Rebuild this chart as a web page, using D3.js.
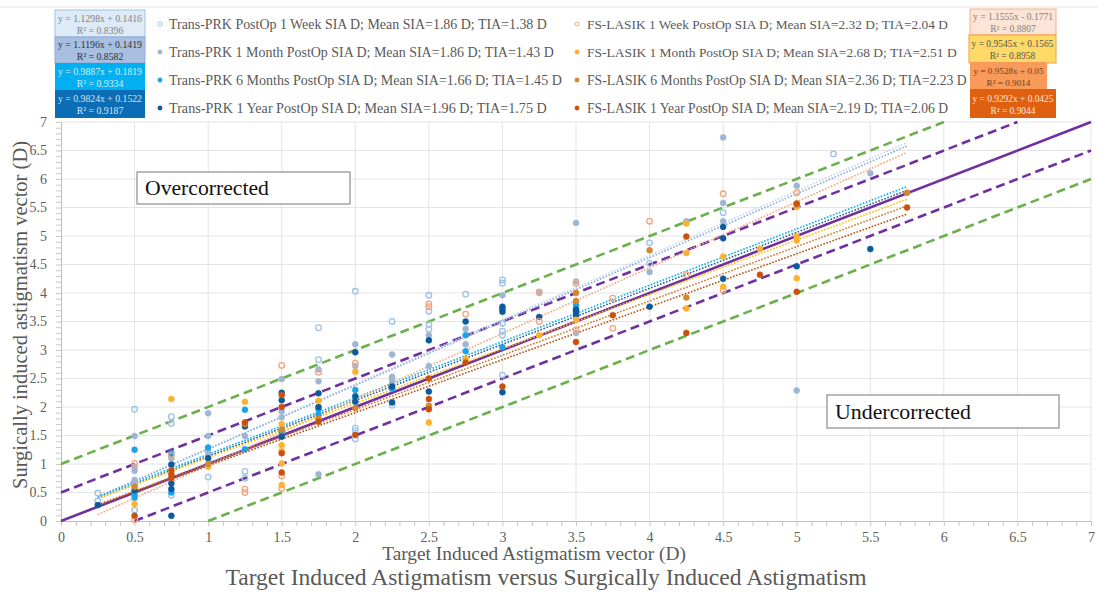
<!DOCTYPE html>
<html><head><meta charset="utf-8">
<script src="https://cdn.jsdelivr.net/npm/d3@7"></script>
<style>
html,body{margin:0;padding:0;background:#fff;}
svg{display:block;font-family:"Liberation Serif","DejaVu Serif",serif;}
</style></head>
<body><svg id="c" width="1098" height="592"></svg>
<script>
// ---------- DATA ----------
const seriesNames = [
  "Trans-PRK PostOp 1 Week SIA D; Mean SIA=1.86 D; TIA=1.38 D",
  "Trans-PRK 1 Month PostOp SIA D; Mean SIA=1.86 D; TIA=1.43 D",
  "Trans-PRK 6 Months PostOp SIA D; Mean SIA=1.66 D; TIA=1.45 D",
  "Trans-PRK 1 Year PostOp SIA D; Mean SIA=1.96 D; TIA=1.75 D",
  "FS-LASIK 1 Week PostOp SIA D; Mean SIA=2.32 D; TIA=2.04 D",
  "FS-LASIK 1 Month PostOp SIA D; Mean SIA=2.68 D; TIA=2.51 D",
  "FS-LASIK 6 Months PostOp SIA D; Mean SIA=2.36 D; TIA=2.23 D",
  "FS-LASIK 1 Year PostOp SIA D; Mean SIA=2.19 D; TIA=2.06 D"
];
const trendSlopes = [1.1298, 1.1196, 0.9887, 0.9824, 1.1555, 0.9545, 0.9528, 0.9292];
const trendIntercepts = [0.1416, 0.1419, 0.1819, 0.1522, -0.1771, 0.1565, 0.05, 0.0425];
const trendEquations = [
  "y = 1.1298x + 0.1416", "y = 1.1196x + 0.1419", "y = 0.9887x + 0.1819", "y = 0.9824x + 0.1522",
  "y = 1.1555x - 0.1771", "y = 0.9545x + 0.1565", "y = 0.9528x + 0.05", "y = 0.9292x + 0.0425"
];
const trendR2 = ["R² = 0.8396", "R² = 0.8582", "R² = 0.9334", "R² = 0.9187",
                 "R² = 0.8807", "R² = 0.8958", "R² = 0.9014", "R² = 0.9044"];
const trendRange = [0.25, 5.75];

const tp1w = [[0.25,0.49],[0.25,0.35],[0.5,1.96],[0.5,0.64],[0.5,0.19],[0.75,1.83],[0.75,1.71],[0.75,0.45],[1,0.77],[1.25,0.87],[1.25,0.75],[1.75,3.39],[1.75,2.83],[2,4.03],[2,1.63],[2,1.58],[2,1.44],[2.25,3.5],[2.25,2.03],[2.5,3.96],[2.5,3.68],[2.5,3.45],[2.5,3.36],[2.75,3.98],[3,4.23],[3,4.17],[3,3.47],[3,3.33],[3,3.26],[3,2.56],[4,4.88],[4,4.52],[4.5,5.41],[5.25,6.44]];
const tp1m = [[0.5,1.49],[0.5,0.95],[0.5,0.88],[0.5,0.72],[0.5,0.69],[0.75,1.1],[1,1.89],[1,1.49],[1,1.23],[1,1.16],[1.25,1.49],[1.5,2.49],[1.5,1.92],[1.5,1.82],[1.75,2.66],[1.75,2.45],[1.75,0.82],[2,3.1],[2,2.72],[2.25,2.92],[2.25,2.53],[2.25,2.49],[2.25,2.44],[2.5,3.26],[2.5,2.72],[2.75,3.37],[2.75,3.1],[3,3.96],[3.25,4.0],[3.5,5.23],[3.5,4.2],[3.5,3.3],[4,4.37],[4.25,5.26],[4.5,6.73],[4.5,5.58],[4.5,5.26],[5,5.88],[5,2.29],[5.5,6.1]];
const tp6m = [[0.5,1.25],[0.5,0.46],[0.5,0.41],[0.75,1.19],[0.75,0.5],[1,1.29],[1.25,1.95],[1.25,1.26],[1.5,1.55],[1.75,1.96],[1.75,1.87],[2,2.3],[2.25,2.32],[2.75,3.26],[2.75,2.98],[3,3.05],[3.5,3.79],[3.5,3.7]];
const tp1y = [[0.25,0.28],[0.5,0.54],[0.75,0.99],[0.75,0.66],[0.75,0.56],[0.75,0.09],[1,1.1],[1.25,1.66],[1.5,2.25],[1.5,2.12],[1.5,1.48],[1.75,2.24],[1.75,2.0],[2,2.96],[2,2.19],[2,2.09],[2.25,2.36],[2.25,2.08],[2.5,3.17],[2.5,2.27],[2.75,3.5],[3,3.76],[3,3.72],[3,3.67],[3,2.26],[3.25,3.58],[3.5,3.71],[3.5,3.67],[3.5,3.61],[4,3.76],[4.5,5.16],[4.5,4.96],[4.5,4.25],[5,4.47],[5.5,4.77]];
const fl1w = [[0.5,1.01],[0.5,0.02],[0.75,1.15],[1.25,0.56],[1.25,0.5],[1.5,2.73],[1.5,0.79],[1.5,0.57],[1.75,2.61],[2,2.77],[2.5,3.81],[2.5,3.76],[2.75,3.63],[3.25,4.02],[3.25,3.5],[3.5,4.17],[3.5,3.35],[3.75,3.91],[3.75,3.38],[4,5.26],[4.25,4.32],[4.5,5.74],[4.5,4.05],[5,5.76]];
const fl1m = [[0.5,0.3],[0.75,2.14],[1,0.95],[1.25,2.09],[1.5,1.7],[1.5,1.33],[1.5,1.23],[1.5,1.01],[1.5,0.63],[1.75,2.11],[2,2.62],[2.5,1.73],[2.75,2.85],[3.25,3.26],[3.5,3.53],[4.25,5.22],[4.25,4.7],[4.25,3.73],[4.5,4.64],[4.5,4.11],[4.75,4.77],[5,5.51],[5,4.99],[5,4.92],[5,4.26]];
const fl6m = [[0.5,0.6],[1,1.0],[1.25,1.7],[1.5,1.6],[1.75,1.8],[2,1.98],[2.5,2.02],[3.5,4.0],[3.5,3.86],[4,4.75],[4.25,3.92],[5,5.55],[5.75,5.76]];
const fl1y = [[0.5,0.09],[0.75,0.89],[0.75,0.82],[0.75,0.76],[1.25,1.73],[1.5,2.21],[1.5,2.0],[1.5,1.19],[1.5,0.85],[1.75,1.74],[2,1.51],[2.5,2.5],[2.5,2.14],[2.5,1.96],[2.75,2.78],[3,2.36],[3.5,3.14],[3.75,3.61],[4.25,4.99],[4.25,3.3],[4.75,4.32],[5,5.57],[5,4.02],[5.75,5.5]];
const seriesData = [tp1w, tp1m, tp6m, tp1y, fl1w, fl1m, fl6m, fl1y];

const axisTicks = [0,0.5,1,1.5,2,2.5,3,3.5,4,4.5,5,5.5,6,6.5,7];
const refOffsets = [0, 0.5, -0.5, 1, -1];
const annotations = ["Overcorrected", "Undercorrected"];
const xTitle = "Target Induced Astigmatism vector (D)";
const yTitle = "Surgically induced astigmatism vector (D)";
const mainTitle = "Target Induced Astigmatism versus Surgically Induced Astigmatism";

// ---------- STYLE ----------
const markerColor = ["#9dc3e6","#9db6d3","#1aa3e8","#0a5a9c","#f4a57a","#ffb030","#d38530","#c8520c"];
const markerOpen = [true,false,false,false,true,false,false,false];
const trendColor = ["#bdd7ee","#8faadc","#00b0f0","#2e5f8f","#f4a57a","#ffc000","#d07a30","#b65010"];
const boxFill = ["#deebf7","#a9bfdf","#00b0f0","#0b6db5","#fce4d6","#ffd966","#f79a5a","#df6010"];
const boxText = ["#808080","#303030","#d6f0fb","#d6e6f4","#808080","#555555","#7a3c10","#fbe7da"];

const svg = d3.select("#c");
const W = 1098, H = 592;
const x = d3.scaleLinear().domain([0,7]).range([61,1091]);
const y = d3.scaleLinear().domain([0,7]).range([521,122]);

// scale font-size of a text so its rendered width equals target
function fitWidth(sel, target){
  const node = sel.node();
  const fs = parseFloat(sel.style("font-size"));
  const w = node.getComputedTextLength();
  if (w > 0) sel.style("font-size", (fs*target/w).toFixed(2)+"px");
  return sel;
}

// outer top border line
svg.append("line").attr("x1",0).attr("x2",W).attr("y1",7).attr("y2",7).attr("stroke","#e3e3e3");

// gridlines
const grid = svg.append("g");
grid.selectAll(".gx").data(axisTicks.slice(1)).join("line")
  .attr("x1",d=>x(d)).attr("x2",d=>x(d)).attr("y1",y(0)).attr("y2",y(7))
  .attr("stroke","#e4e4e4").attr("stroke-width",1);
grid.selectAll(".gy").data(axisTicks.slice(1)).join("line")
  .attr("x1",x(0)).attr("x2",x(7)).attr("y1",d=>y(d)).attr("y2",d=>y(d))
  .attr("stroke","#e4e4e4").attr("stroke-width",1);

// axes
const minorTicks = d3.range(0,71).map(i=>i/10);
const xMinor = svg.append("g").attr("transform",`translate(0,${y(0)})`)
  .call(d3.axisBottom(x).tickValues(minorTicks).tickSize(5).tickFormat(""));
const yMinor = svg.append("g").attr("transform",`translate(${x(0)},0)`)
  .call(d3.axisLeft(y).tickValues(minorTicks).tickSize(5).tickFormat(""));
[xMinor,yMinor].forEach(g=>{g.selectAll("line").attr("stroke","#c8c8c8");g.select(".domain").attr("stroke","#bfbfbf");});

const fmt = d=>String(d);
const xAx = svg.append("g").attr("transform",`translate(0,${y(0)})`)
  .call(d3.axisBottom(x).tickValues(axisTicks).tickSize(0).tickPadding(11).tickFormat(fmt));
const yAx = svg.append("g").attr("transform",`translate(${x(0)},0)`)
  .call(d3.axisLeft(y).tickValues(axisTicks).tickSize(0).tickPadding(14).tickFormat(fmt));
[xAx,yAx].forEach(g=>{g.select(".domain").remove();
  g.selectAll("text").attr("fill","#606060").style("font-size","14px").style("font-family","Liberation Serif");});

// reference lines
const refColor = ["#7030a0","#7030a0","#7030a0","#6ab04c","#6ab04c"];
const ref = svg.append("g");
refOffsets.forEach((o,i)=>{
  const x0 = Math.max(0,-o), x1 = Math.min(7,7-o);
  ref.append("line").attr("x1",x(x0)).attr("y1",y(x0+o)).attr("x2",x(x1)).attr("y2",y(x1+o))
    .attr("stroke",refColor[i]).attr("stroke-width",2.6)
    .attr("stroke-dasharray", o===0 ? null : "9,5");
});

// trendlines
const tr = svg.append("g");
trendSlopes.forEach((m,i)=>{
  const b = trendIntercepts[i];
  tr.append("line").attr("x1",x(trendRange[0])).attr("y1",y(m*trendRange[0]+b))
    .attr("x2",x(trendRange[1])).attr("y2",y(m*trendRange[1]+b))
    .attr("stroke",trendColor[i]).attr("stroke-width",1.6).attr("stroke-dasharray","1.6,1.6");
});

// points
const pts = svg.append("g");
seriesData.forEach((s,i)=>{
  pts.append("g").selectAll("circle").data(s).join("circle")
    .attr("cx",d=>x(d[0])).attr("cy",d=>y(d[1])).attr("r",markerOpen[i]?2.8:3)
    .attr("fill",markerOpen[i]?"#fff":markerColor[i])
    .attr("fill-opacity",markerOpen[i]?0:1)
    .attr("stroke",markerColor[i]).attr("stroke-width",markerOpen[i]?1.3:0.5);
});

// annotation boxes
const ann = [[137,172,213,32],[827,395,232,33]];
annotations.forEach((t,i)=>{
  const [bx,by,bw,bh] = ann[i];
  svg.append("rect").attr("x",bx).attr("y",by).attr("width",bw).attr("height",bh)
    .attr("fill","#fff").attr("stroke","#8c8c8c").attr("stroke-width",1.2);
  const t0 = svg.append("text").attr("x",bx+8).attr("y",by+bh/2+7).text(t)
    .attr("fill","#111").style("font-size","20px");
  fitWidth(t0, i===0 ? 124 : 136);
});

// legend entries
const legRowY = [24,52,80,108];
const legWidths = [378,385,393,378,361,370,380,361];
seriesNames.forEach((n,i)=>{
  const col = i<4?0:1, row = i%4;
  const mx = col===0?160:577, tx = col===0?169:587;
  const g = svg.append("g");
  g.append("circle").attr("cx",mx).attr("cy",legRowY[row]).attr("r",markerOpen[i]?2:2.2)
    .attr("fill",markerOpen[i]?"none":markerColor[i]).attr("stroke",markerColor[i]).attr("stroke-width",markerOpen[i]?1:0.5);
  const t = g.append("text").attr("x",tx).attr("y",legRowY[row]+5).text(n)
    .attr("fill","#595959").style("font-size","15px");
  fitWidth(t, legWidths[i]);
});

// equation boxes
const boxGeom = [[55,10,90,27],[55,37,90,26],[55,63,90,27],[55,90,90,28],
                 [970,9,86,26],[969,35,87,28],[970,62,77,27],[970,89,86,29]];
const boxStroke = ["#9dc3e6","#8faadc",null,null,"#f4b183","#f0a040",null,null];
const eqWidths = [84,84,84,84,80,82,70,81];
trendEquations.forEach((e,i)=>{
  const [bx,by,bw,bh] = boxGeom[i];
  svg.append("rect").attr("x",bx).attr("y",by).attr("width",bw).attr("height",bh)
    .attr("fill",boxFill[i]).attr("stroke",boxStroke[i]||"none").attr("stroke-width",1);
  const cx = bx+bw/2;
  const t1 = svg.append("text").attr("x",cx).attr("y",by+bh/2-2).attr("text-anchor","middle").text(e)
    .attr("fill",boxText[i]).style("font-size","10px");
  fitWidth(t1, eqWidths[i]);
  const fs = t1.style("font-size");
  svg.append("text").attr("x",cx).attr("y",by+bh/2+10).attr("text-anchor","middle").text(trendR2[i])
    .attr("fill",boxText[i]).style("font-size",fs);
});

// titles
const xt = svg.append("text").attr("x",534).attr("y",560).attr("text-anchor","middle").text(xTitle)
  .attr("fill","#595959").style("font-size","18px");
fitWidth(xt, 304);
const mt = svg.append("text").attr("x",546).attr("y",585).attr("text-anchor","middle").text(mainTitle)
  .attr("fill","#595959").style("font-size","22px");
fitWidth(mt, 641);
const yt = svg.append("text").attr("transform",`translate(27,315) rotate(-90)`).attr("text-anchor","middle")
  .text(yTitle).attr("fill","#595959").style("font-size","19px");
fitWidth(yt, 348);
</script></body></html>
